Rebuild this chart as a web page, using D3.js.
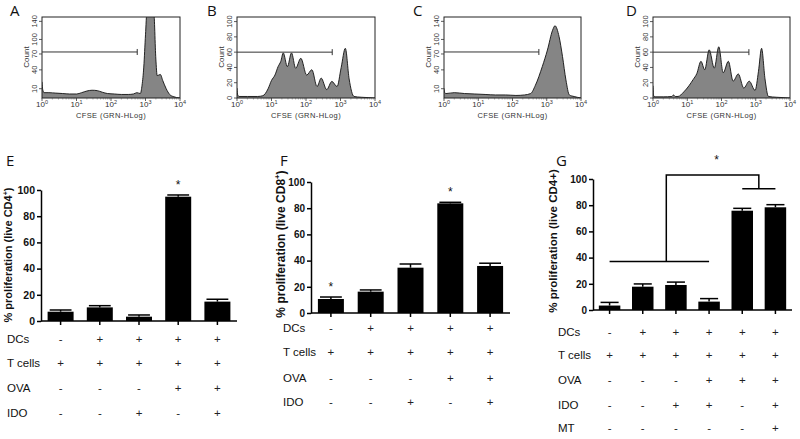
<!DOCTYPE html>
<html><head><meta charset="utf-8">
<script src="https://cdn.jsdelivr.net/npm/d3@7"></script>
<style>
body{margin:0;background:#fff}
svg{display:block}
text{font-family:Arial,"Liberation Sans",sans-serif}
</style>
</head><body>
<svg id="c" width="800" height="439"></svg>
<script>
// ---------- DATA ----------
// Flow histograms: x = log10(CFSE), y = count
const cfseDecades = [0, 1, 2, 3, 4];
const countTicksAC = [10, 40, 70, 100, 140];
const countTicksBD = [0, 20, 40, 60, 80, 100];

const histALog   = [0,0.02,0.06,0.2,0.4,0.6,0.8,1.0,1.15,1.3,1.45,1.6,1.75,1.9,2.1,2.3,2.5,2.65,2.75,2.85,2.9,2.95,3.0,3.04,3.24,3.3,3.34,3.43,3.5,3.6,3.7,3.8,4.0];
const histACount = [20,9,5,5,4.5,4,3.5,3.5,5,7,8,7.5,5.5,4,3.5,3,3,3.5,5,4,15,45,110,160,160,60,30,32,22,10,3,1,0];

const histBLog   = [0,0.02,0.06,0.3,0.6,0.75,0.9,1.0,1.1,1.19,1.27,1.34,1.46,1.58,1.7,1.85,2.02,2.17,2.32,2.44,2.6,2.75,2.9,3.02,3.14,3.25,3.39,3.6,3.8,4.0];
const histBCount = [13,4,2,2,2,3,12,23,30,41,48,59,41,59,39,52,30,37,15,26,11,21.7,15,40,65,25,2,1,0.5,0];

const histCLog   = [0,0.02,0.06,0.3,0.6,0.9,1.2,1.5,1.8,2.1,2.35,2.53,2.67,2.87,3.02,3.17,3.24,3.36,3.46,3.56,3.66,3.8,4.0];
const histCCount = [10.6,5,4,5,4,3.5,3,2.5,2.5,2,2.5,4,15,46,78,120,130,106,65,23,2.5,1,0];

const histDLog   = [0,0.02,0.06,0.3,0.55,0.6,0.65,0.73,0.9,1.05,1.17,1.28,1.40,1.51,1.64,1.79,1.92,2.05,2.2,2.34,2.49,2.65,2.81,2.98,3.08,3.17,3.27,3.37,3.6,4.0];
const histDCount = [16,3,1.5,1.5,2,4,2,2,8,16,24,32,48,37,63,39,67,33,48,22,31.5,13,22,10,35,65,25,2,1,0];

const gateEndLog = [2.76, 2.76, 2.77, 2.8];
const gateCount  = [74, 60, 74, 60];

// Bar charts
const percentTicks = [0, 20, 40, 60, 80, 100];
const rowsEF = ["DCs", "T cells", "OVA", "IDO"];
const rowsG  = ["DCs", "T cells", "OVA", "IDO", "MT"];

const eValues = [7.1, 10.4, 3.3, 94.9, 14.8];
const eErrors = [1.3, 1.3, 1.3, 1.3, 1.8];
const eStars  = ["", "", "", "*", ""];
const eDCs    = ["-", "+", "+", "+", "+"];
const eTcells = ["+", "+", "+", "+", "+"];
const eOVA    = ["-", "-", "-", "+", "+"];
const eIDO    = ["-", "-", "+", "-", "+"];

const fValues = [10.7, 16.3, 34.6, 83.7, 35.9];
const fErrors = [1.5, 1.3, 2.8, 0.8, 2.1];
const fStars  = ["*", "", "", "*", ""];
const fDCs    = ["-", "+", "+", "+", "+"];
const fTcells = ["+", "+", "+", "+", "+"];
const fOVA    = ["-", "-", "-", "+", "+"];
const fIDO    = ["-", "-", "+", "-", "+"];

const gValues = [3.4, 17.8, 19.1, 6.4, 75.8, 78.4];
const gErrors = [2.4, 2.1, 2.2, 2.3, 1.8, 2.0];
const gDCs    = ["-", "+", "+", "+", "+", "+"];
const gTcells = ["+", "+", "+", "+", "+", "+"];
const gOVA    = ["-", "-", "-", "+", "+", "+"];
const gIDO    = ["-", "-", "+", "+", "-", "+"];
const gMT     = ["-", "-", "-", "-", "-", "+"];
const gBracketLow = 37, gBracketHigh = 103, gBracketShort = 92.6, gStarLevel = 115;

// ---------- DRAW ----------
const svg = d3.select("#c");

function drawHist(o, idx) {
  const g = svg.append("g");
  const top = 17, bot = 98;
  const x = d3.scaleLinear().domain([0, 4]).range([o.x0, o.x1]);
  const y = o.pow
    ? d3.scalePow().exponent(0.8).domain([0, 150]).range([bot, top])
    : d3.scaleLinear().domain([0, 106]).range([bot, top]);
  const pts = o.log.map((v, i) => [v, o.count[i]]);
  const cid = "clip" + idx;
  g.append("clipPath").attr("id", cid).append("rect")
    .attr("x", o.x0).attr("y", top).attr("width", o.x1 - o.x0).attr("height", bot - top);
  const area = d3.area().x(d => x(d[0])).y0(y(0)).y1(d => y(d[1])).curve(d3.curveMonotoneX);
  const line = d3.line().x(d => x(d[0])).y(d => y(d[1])).curve(d3.curveMonotoneX);
  const cg = g.append("g").attr("clip-path", `url(#${cid})`);
  cg.append("path").attr("d", area(pts)).attr("fill", "#858585");
  cg.append("path").attr("d", line(pts)).attr("fill", "none").attr("stroke", "#111").attr("stroke-width", 0.9);
  g.append("rect").attr("x", o.x0).attr("y", top).attr("width", o.x1 - o.x0).attr("height", bot - top)
    .attr("fill", "none").attr("stroke", "#222").attr("stroke-width", 1);
  // y ticks
  o.yticks.forEach(t => {
    const yy = y(t);
    g.append("line").attr("x1", o.x0 - 3).attr("x2", o.x0).attr("y1", yy).attr("y2", yy).attr("stroke", "#333").attr("stroke-width", 0.8);
    g.append("text").attr("transform", `translate(${o.x0 - 5},${yy}) rotate(-90)`)
      .attr("text-anchor", "middle").attr("font-size", 7.5).attr("fill", "#333").text(t);
  });
  // x ticks
  o.xticks.forEach(t => {
    const xx = x(t);
    g.append("line").attr("x1", xx).attr("x2", xx).attr("y1", bot).attr("y2", bot + 3).attr("stroke", "#333").attr("stroke-width", 0.8);
    if (t < 4) d3.range(2, 10).forEach(m => {
      const xm = x(t + Math.log10(m));
      g.append("line").attr("x1", xm).attr("x2", xm).attr("y1", bot).attr("y2", bot + 1.5).attr("stroke", "#555").attr("stroke-width", 0.5);
    });
    const tx = g.append("text").attr("x", xx).attr("y", 107).attr("text-anchor", "middle")
      .attr("font-size", 8).attr("fill", "#333");
    tx.append("tspan").text("10");
    tx.append("tspan").attr("dy", -3).attr("font-size", 5.5).text(t);
  });
  g.append("text").attr("transform", `translate(${o.x0 - 13},57) rotate(-90)`)
    .attr("text-anchor", "middle").attr("font-size", 8).attr("fill", "#333").text("Count");
  g.append("text").attr("x", (o.x0 + o.x1) / 2).attr("y", 118).attr("text-anchor", "middle")
    .attr("font-size", 7.5).attr("fill", "#333").attr("letter-spacing", 0.4).text("CFSE  (GRN-HLog)");
  // gate
  const gy = y(o.gateCount), gx = x(o.gateEnd);
  g.append("line").attr("x1", x(0)).attr("x2", gx).attr("y1", gy).attr("y2", gy).attr("stroke", "#333").attr("stroke-width", 1);
  g.append("line").attr("x1", gx).attr("x2", gx).attr("y1", gy - 3).attr("y2", gy + 3).attr("stroke", "#333").attr("stroke-width", 1);
  g.append("text").attr("x", o.lx).attr("y", 16).attr("font-size", 15).attr("fill", "#111")
    .style("font-family", "'Open Sans',sans-serif").text(o.letter);
}

drawHist({letter:"A", lx:10, x0:42, x1:180, log:histALog, count:histACount, pow:true, yticks:countTicksAC, xticks:cfseDecades, gateEnd:gateEndLog[0], gateCount:gateCount[0]}, 0);
drawHist({letter:"B", lx:207, x0:237, x1:375, log:histBLog, count:histBCount, pow:false, yticks:countTicksBD, xticks:cfseDecades, gateEnd:gateEndLog[1], gateCount:gateCount[1]}, 1);
drawHist({letter:"C", lx:413, x0:444, x1:581, log:histCLog, count:histCCount, pow:true, yticks:countTicksAC, xticks:cfseDecades, gateEnd:gateEndLog[2], gateCount:gateCount[2]}, 2);
drawHist({letter:"D", lx:626, x0:653, x1:790, log:histDLog, count:histDCount, pow:false, yticks:countTicksBD, xticks:cfseDecades, gateEnd:gateEndLog[3], gateCount:gateCount[3]}, 3);

function drawBars(o) {
  const g = svg.append("g");
  const n = o.values.length;
  const y = d3.scaleLinear().domain([0, 100]).range([o.yz, o.yh]);
  const step = (o.x1 - o.x0) / n;
  const pi = 1 - o.barW / step;
  const x = d3.scaleBand().domain(d3.range(n)).range([o.x0, o.x1]).paddingInner(pi).paddingOuter(pi / 2);
  const bw = x.bandwidth();
  const cx = i => x(i) + bw / 2;
  g.selectAll(".bar").data(o.values).join("rect")
    .attr("x", (d, i) => x(i)).attr("y", d => y(d)).attr("width", bw).attr("height", d => o.yz - y(d)).attr("fill", "#000");
  o.values.forEach((v, i) => {
    const yt = y(v + o.errors[i]);
    g.append("line").attr("x1", cx(i)).attr("x2", cx(i)).attr("y1", y(v)).attr("y2", yt).attr("stroke", "#000").attr("stroke-width", 1.5);
    g.append("line").attr("x1", cx(i) - bw * 0.42).attr("x2", cx(i) + bw * 0.42).attr("y1", yt).attr("y2", yt).attr("stroke", "#000").attr("stroke-width", 1.5);
    if (o.stars[i]) g.append("text").attr("x", cx(i)).attr("y", yt - 6).attr("text-anchor", "middle")
      .attr("font-size", 12).attr("fill", "#111").text(o.stars[i]);
  });
  // y axis
  const ax = g.append("g").attr("transform", `translate(${o.x0},0)`)
    .call(d3.axisLeft(y).tickValues(percentTicks).tickSize(4).tickSizeOuter(0).tickPadding(2));
  ax.select(".domain").attr("stroke-width", 1.5);
  ax.selectAll(".tick line").attr("stroke-width", 1.5);
  ax.selectAll(".tick text").attr("font-size", o.tickFont).attr("font-weight", "bold")
    .style("font-family", "Arial,'Liberation Sans',sans-serif").attr("fill", "#111");
  // x axis
  g.append("line").attr("x1", o.x0).attr("x2", o.x1).attr("y1", o.yz).attr("y2", o.yz).attr("stroke", "#000").attr("stroke-width", 1.5);
  d3.range(n).forEach(i => g.append("line").attr("x1", cx(i)).attr("x2", cx(i)).attr("y1", o.yz).attr("y2", o.yz + 4).attr("stroke", "#000").attr("stroke-width", 1.5));
  // y label
  const yl = g.append("text").attr("transform", `translate(${o.ylx},${o.yly}) rotate(-90)`)
    .attr("text-anchor", "middle").attr("font-size", o.ylSize).attr("font-weight", "bold").attr("fill", "#111");
  if (o.sup) {
    yl.append("tspan").text(o.ylabel);
    yl.append("tspan").attr("dy", -o.ylSize * 0.4).attr("font-size", o.ylSize * 0.65).text("+");
    yl.append("tspan").attr("dy", o.ylSize * 0.4).text(")");
  } else yl.text(o.ylabel);
  // table
  o.rows.forEach((r, k) => {
    const ry = o.rowYs[k];
    g.append("text").attr("x", o.rowX).attr("y", ry).attr("dy", "0.35em").attr("font-size", o.rowFont).attr("fill", "#111").text(r);
    o.table[k].forEach((s, i) => g.append("text").attr("x", cx(i)).attr("y", ry).attr("dy", "0.35em")
      .attr("text-anchor", "middle").attr("font-size", o.rowFont).attr("fill", "#222").text(s));
  });
  g.append("text").attr("x", o.lx).attr("y", o.ly).attr("font-size", 15).attr("fill", "#111")
    .style("font-family", "'Open Sans',sans-serif").text(o.letter);
  return {x: cx, y};
}

drawBars({letter:"E", lx:6, ly:166, x0:41, x1:237, yz:321, yh:190, barW:26, values:eValues, errors:eErrors, stars:eStars,
  rows:rowsEF, table:[eDCs, eTcells, eOVA, eIDO], rowYs:[339, 363, 388, 413], rowX:7, rowFont:11.5,
  ylabel:"% proliferation (live CD4", sup:true, ylx:12, yly:255, ylSize:11, tickFont:10.5});

drawBars({letter:"F", lx:280, ly:166, x0:311, x1:510, yz:313, yh:182, barW:26, values:fValues, errors:fErrors, stars:fStars,
  rows:rowsEF, table:[fDCs, fTcells, fOVA, fIDO], rowYs:[328, 352, 378, 402], rowX:283, rowFont:11.5,
  ylabel:"% proliferation (live CD8", sup:true, ylx:285, yly:244, ylSize:12, tickFont:10});

const gs = drawBars({letter:"G", lx:556, ly:166, x0:593, x1:792, yz:310, yh:179, barW:21.5, values:gValues, errors:gErrors, stars:["","","","","",""],
  rows:rowsG, table:[gDCs, gTcells, gOVA, gIDO, gMT], rowYs:[332, 355, 380, 405, 428], rowX:558, rowFont:11.5,
  ylabel:"% proliferation (live CD4+)", sup:false, ylx:557, yly:241, ylSize:11.5, tickFont:10});

// G significance bracket
(function () {
  const b = svg.append("g").attr("stroke", "#000").attr("stroke-width", 1.5).attr("fill", "none");
  const xl0 = gs.x(0), xl1 = gs.x(3), xs0 = gs.x(4), xs1 = gs.x(5);
  const xm = xl0 + (xl1 - xl0) * 0.57, xn = (xs0 + xs1) / 2;
  b.append("line").attr("x1", xl0).attr("x2", xl1).attr("y1", gs.y(gBracketLow)).attr("y2", gs.y(gBracketLow));
  b.append("polyline").attr("points", [[xm, gs.y(gBracketLow)], [xm, gs.y(gBracketHigh)], [xn, gs.y(gBracketHigh)], [xn, gs.y(gBracketShort)]].map(p => p.join(",")).join(" "));
  b.append("line").attr("x1", xs0).attr("x2", xs1).attr("y1", gs.y(gBracketShort)).attr("y2", gs.y(gBracketShort));
  svg.append("text").attr("x", (xm + xn) / 2 + 4).attr("y", gs.y(gStarLevel) + 5).attr("text-anchor", "middle")
    .attr("font-size", 12).attr("fill", "#111").text("*");
})();
</script>
</body></html>
